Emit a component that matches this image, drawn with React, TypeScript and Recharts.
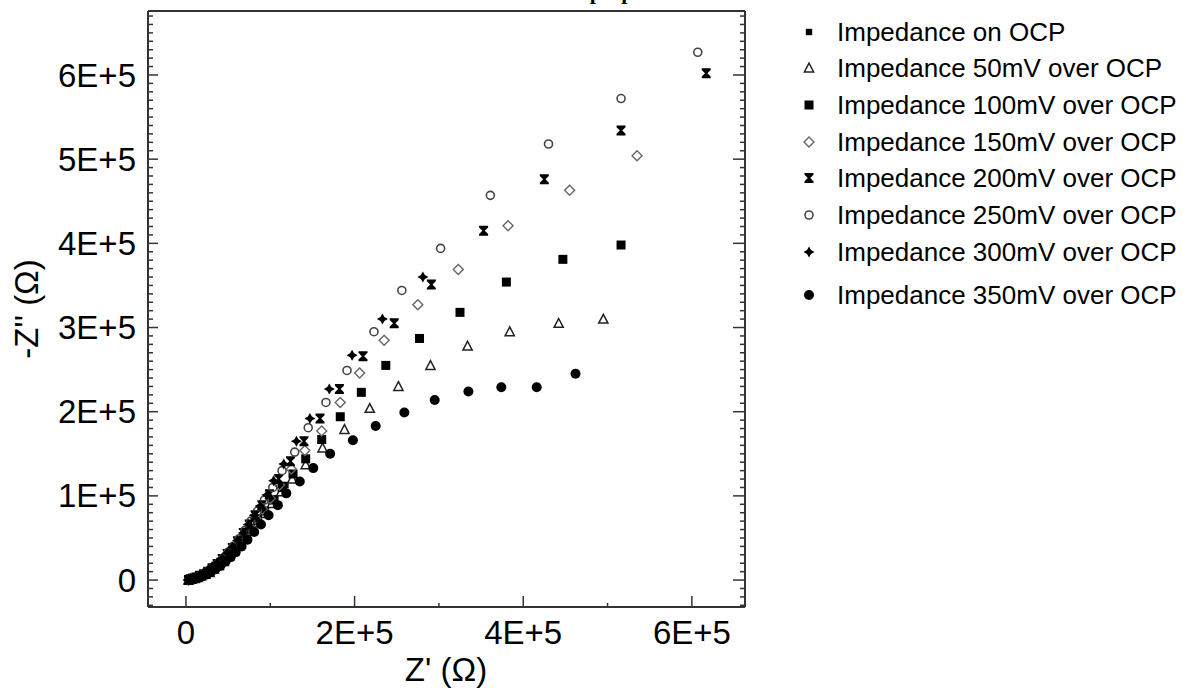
import { ScatterChart, Scatter, XAxis, YAxis } from "recharts";

type Pt = [number, number];

// Nyquist data: [Z', -Z''] in ohms, low frequency first
const ocp: Pt[] = [
  [118000, 113000], [106000, 97000], [95000, 83000], [86000, 71000], [78000, 60000],
  [70000, 51000], [63000, 42000], [57000, 35000], [51000, 28000], [45000, 23000],
  [39000, 18000], [33000, 13000], [28000, 10000], [23000, 7000], [18000, 5000],
  [14000, 3000], [10000, 2000], [6000, 1000], [3000, 0],
];
const mv50: Pt[] = [
  [495000, 310000], [442000, 305000], [384000, 295000], [334000, 278000], [290000, 255000],
  [252000, 230000], [218000, 204000], [188000, 179000], [162000, 157000], [142000, 137000],
  [126000, 120000], [113000, 105000], [102000, 91000], [93000, 79000], [85000, 68000],
  [77000, 58000], [70000, 49000], [63000, 41000], [57000, 34000], [51000, 28000],
  [45000, 22000], [39000, 17000], [33000, 13000], [28000, 9000], [23000, 7000],
  [18000, 5000], [14000, 3000], [10000, 2000], [6000, 1000], [3000, 0],
];
const mv100: Pt[] = [
  [516000, 398000], [447000, 381000], [380000, 354000], [325000, 318000], [277000, 287000],
  [237000, 255000], [208000, 223000], [183000, 194000], [161000, 167000], [142000, 144000],
  [127000, 126000], [114000, 110000], [103000, 95000], [93000, 82000], [85000, 71000],
  [77000, 61000], [70000, 52000], [63000, 43000], [57000, 36000], [51000, 29000],
  [45000, 23000], [39000, 18000], [33000, 13000], [28000, 10000], [23000, 7000],
  [18000, 5000], [14000, 3000], [10000, 2000], [6000, 1000], [3000, 0],
];
const mv150: Pt[] = [
  [535000, 504000], [455000, 463000], [382000, 421000], [323000, 369000], [275000, 327000],
  [235000, 285000], [206000, 246000], [183000, 211000], [161000, 177000], [141000, 154000],
  [125000, 132000], [111000, 113000], [100000, 97000], [91000, 84000], [83000, 73000],
  [76000, 63000], [69000, 53000], [62000, 44000], [56000, 36000], [50000, 29000],
  [44000, 23000], [38000, 18000], [32000, 13000], [27000, 10000], [22000, 7000],
  [17000, 5000], [13000, 3000], [9000, 2000], [6000, 1000], [3000, 0],
];
const mv200: Pt[] = [
  [617000, 602000], [516000, 534000], [425000, 476000], [353000, 415000], [291000, 351000],
  [247000, 305000], [210000, 266000], [182000, 227000], [159000, 192000], [140000, 165000],
  [124000, 141000], [110000, 120000], [99000, 102000], [90000, 89000], [82000, 77000],
  [75000, 66000], [68000, 56000], [61000, 46000], [55000, 38000], [49000, 31000],
  [43000, 25000], [37000, 19000], [31000, 14000], [26000, 10000], [21000, 7000],
  [16000, 5000], [12000, 3000], [8000, 2000], [5000, 1000], [3000, 0],
];
const mv250: Pt[] = [
  [607000, 627000], [516000, 572000], [430000, 518000], [361000, 457000], [302000, 394000],
  [256000, 344000], [223000, 295000], [191000, 249000], [166000, 211000], [145000, 181000],
  [129000, 152000], [114000, 130000], [103000, 110000], [93000, 95000], [85000, 82000],
  [77000, 70000], [70000, 59000], [63000, 49000], [56000, 40000], [50000, 33000],
  [44000, 26000], [38000, 20000], [32000, 15000], [27000, 11000], [22000, 8000],
  [17000, 5000], [13000, 3000], [9000, 2000], [6000, 1000], [4000, 0],
];
const mv300: Pt[] = [
  [281000, 360000], [233000, 310000], [197000, 267000], [170000, 227000], [147000, 192000],
  [131000, 165000], [116000, 138000], [104000, 118000], [96000, 101000], [88000, 88000],
  [81000, 77000], [74000, 66000], [68000, 56000], [61000, 47000], [55000, 39000],
  [49000, 32000], [43000, 26000], [37000, 21000], [31000, 16000], [26000, 12000],
  [21000, 9000], [16000, 6000], [12000, 4000], [8000, 2000], [5000, 1000], [3000, 0],
];
const mv350: Pt[] = [
  [462000, 245000], [416000, 229000], [374000, 229000], [335000, 224000], [295000, 214000],
  [259000, 199000], [225000, 183000], [198000, 166000], [171000, 150000], [151000, 133000],
  [135000, 117000], [119000, 103000], [109000, 89000], [98000, 77000], [89000, 66000],
  [81000, 57000], [73000, 48000], [66000, 40000], [59000, 33000], [53000, 27000],
  [47000, 22000], [41000, 17000], [35000, 13000], [30000, 10000], [25000, 7000],
  [20000, 5000], [15000, 3000], [11000, 2000], [7000, 1000], [4000, 0],
];

const SERIES = [
  { name: "Impedance on OCP", points: ocp, marker: "smallSquare" },
  { name: "Impedance 50mV over OCP", points: mv50, marker: "triangle" },
  { name: "Impedance 100mV over OCP", points: mv100, marker: "square" },
  { name: "Impedance 150mV over OCP", points: mv150, marker: "diamond" },
  { name: "Impedance 200mV over OCP", points: mv200, marker: "hourglass" },
  { name: "Impedance 250mV over OCP", points: mv250, marker: "circle" },
  { name: "Impedance 300mV over OCP", points: mv300, marker: "star" },
  { name: "Impedance 350mV over OCP", points: mv350, marker: "dot" },
];

const xMajor = [0, 200000, 400000, 600000];
const xMajorLabels = ["0", "2E+5", "4E+5", "6E+5"];
const xTicks = [0, 100000, 200000, 300000, 400000, 500000, 600000];
const yMajor = [0, 100000, 200000, 300000, 400000, 500000, 600000];
const yMajorLabels = ["0", "1E+5", "2E+5", "3E+5", "4E+5", "5E+5", "6E+5"];
// minor ticks every 1E+4 on the -Z'' axis
const yTicks = Array.from({ length: 71 }, (_, i) => -30000 + i * 10000);

const W = 1186;
const H = 688;
const FONT = "'Liberation Sans', Arial, sans-serif";
const AXIS = "#333";
const LEGEND_Y = [32, 68, 105, 142, 178, 215, 252, 295];

function Marker({ cx, cy, kind }: { cx: number; cy: number; kind: string }) {
  switch (kind) {
    case "smallSquare":
      return <rect x={cx - 3.2} y={cy - 3.2} width={6.4} height={6.4} fill="#000" />;
    case "square":
      return <rect x={cx - 4.5} y={cy - 4.5} width={9} height={9} fill="#000" />;
    case "triangle":
      return (
        <path
          d={`M${cx},${cy - 4.8} L${cx + 4.6},${cy + 4} L${cx - 4.6},${cy + 4} Z`}
          fill="none"
          stroke="#222"
          strokeWidth={1.5}
        />
      );
    case "diamond":
      return (
        <path
          d={`M${cx},${cy - 5} L${cx + 5},${cy} L${cx},${cy + 5} L${cx - 5},${cy} Z`}
          fill="none"
          stroke="#666"
          strokeWidth={1.4}
        />
      );
    case "hourglass":
      return (
        <path
          d={`M${cx - 4.5},${cy - 5} H${cx + 4.5} V${cy - 3.3} L${cx + 1.2},${cy} L${cx + 4.5},${cy + 3.3} V${cy + 5} H${cx - 4.5} V${cy + 3.3} L${cx - 1.2},${cy} L${cx - 4.5},${cy - 3.3} Z`}
          fill="#000"
        />
      );
    case "circle":
      return <circle cx={cx} cy={cy} r={4} fill="none" stroke="#444" strokeWidth={1.6} />;
    case "star":
      return (
        <path
          d={`M${cx},${cy - 5.5} L${cx + 2},${cy - 2} L${cx + 5.5},${cy} L${cx + 2},${cy + 2} L${cx},${cy + 5.5} L${cx - 2},${cy + 2} L${cx - 5.5},${cy} L${cx - 2},${cy - 2} Z`}
          fill="#000"
        />
      );
    default:
      return <circle cx={cx} cy={cy} r={5} fill="#000" />;
  }
}

function BottomTick({ x, y, payload }: any) {
  const i = xMajor.indexOf(payload.value);
  return (
    <g>
      <line x1={x} y1={y} x2={x} y2={y - (i >= 0 ? 11 : 4)} stroke={AXIS} strokeWidth={1.5} />
      {i >= 0 && (
        <text x={x} y={y + 37} textAnchor="middle" fontSize={33} fontFamily={FONT} fill="#000">
          {xMajorLabels[i]}
        </text>
      )}
    </g>
  );
}

function TopTick({ x, y, payload }: any) {
  const major = xMajor.includes(payload.value);
  return <line x1={x} y1={y} x2={x} y2={y + (major ? 12 : 4)} stroke={AXIS} strokeWidth={1.5} />;
}

function LeftTick({ x, y, payload }: any) {
  const i = yMajor.indexOf(payload.value);
  return (
    <g>
      <line x1={x} y1={y} x2={x + (i >= 0 ? 10 : 5)} y2={y} stroke={AXIS} strokeWidth={1.5} />
      {i >= 0 && (
        <text x={x - 12} y={y} dy="0.35em" textAnchor="end" fontSize={33} fontFamily={FONT} fill="#000">
          {yMajorLabels[i]}
        </text>
      )}
    </g>
  );
}

function RightTick({ x, y, payload }: any) {
  const major = yMajor.includes(payload.value);
  return <line x1={x} y1={y} x2={x - (major ? 12 : 5)} y2={y} stroke={AXIS} strokeWidth={1.5} />;
}

export default function App() {
  // axes are 1px thick so Recharts still draws them; margins are 1px smaller to keep the frame at 148..745 x 11..607
  return (
    <div style={{ position: "absolute", left: 0, top: 0, width: W, height: H, background: "#fff" }}>
      <ScatterChart width={W} height={H} margin={{ top: 10, right: 440, bottom: 80, left: 147 }}>
        <XAxis
          type="number"
          dataKey="x"
          domain={[-45000, 663000]}
          allowDataOverflow
          ticks={xTicks}
          interval={0}
          height={1}
          tickSize={0}
          tickMargin={0}
          tickLine={false}
          axisLine={{ stroke: AXIS, strokeWidth: 2 }}
          tick={(p: any) => <BottomTick {...p} />}
        />
        <XAxis
          xAxisId="top"
          orientation="top"
          type="number"
          domain={[-45000, 663000]}
          allowDataOverflow
          ticks={xTicks}
          interval={0}
          height={1}
          tickSize={0}
          tickMargin={0}
          tickLine={false}
          axisLine={{ stroke: AXIS, strokeWidth: 2 }}
          tick={(p: any) => <TopTick {...p} />}
        />
        <YAxis
          type="number"
          dataKey="y"
          domain={[-32000, 676000]}
          allowDataOverflow
          ticks={yTicks}
          interval={0}
          width={1}
          tickSize={0}
          tickMargin={0}
          tickLine={false}
          axisLine={{ stroke: AXIS, strokeWidth: 2 }}
          tick={(p: any) => <LeftTick {...p} />}
        />
        <YAxis
          yAxisId="right"
          orientation="right"
          type="number"
          domain={[-32000, 676000]}
          allowDataOverflow
          ticks={yTicks}
          interval={0}
          width={1}
          tickSize={0}
          tickMargin={0}
          tickLine={false}
          axisLine={{ stroke: AXIS, strokeWidth: 2 }}
          tick={(p: any) => <RightTick {...p} />}
        />
        {SERIES.map((s) => (
          <Scatter
            key={s.name}
            name={s.name}
            data={s.points.map(([x, y]) => ({ x, y }))}
            isAnimationActive={false}
            shape={(p: any) => <Marker cx={p.cx} cy={p.cy} kind={s.marker} />}
          />
        ))}
      </ScatterChart>
      <svg
        width={W}
        height={H}
        style={{ position: "absolute", left: 0, top: 0, pointerEvents: "none" }}
      >
        <text
          x={566}
          y={-1}
          fontSize={22}
          fontWeight="bold"
          fontFamily="'Liberation Serif', 'Times New Roman', serif"
          fill="#000"
        >
          of preparation
        </text>
        <text x={446} y={681} textAnchor="middle" fontSize={33} fontFamily={FONT} fill="#000">
          Z' (Ω)
        </text>
        <text
          transform="translate(38, 309) rotate(-90)"
          textAnchor="middle"
          fontSize={33}
          fontFamily={FONT}
          fill="#000"
        >
          -Z'' (Ω)
        </text>
        {SERIES.map((s, i) => (
          <g key={s.name}>
            <Marker cx={809} cy={LEGEND_Y[i]} kind={s.marker} />
            <text x={837} y={LEGEND_Y[i] + 9} fontSize={26} fontFamily={FONT} fill="#000">
              {s.name}
            </text>
          </g>
        ))}
      </svg>
    </div>
  );
}
